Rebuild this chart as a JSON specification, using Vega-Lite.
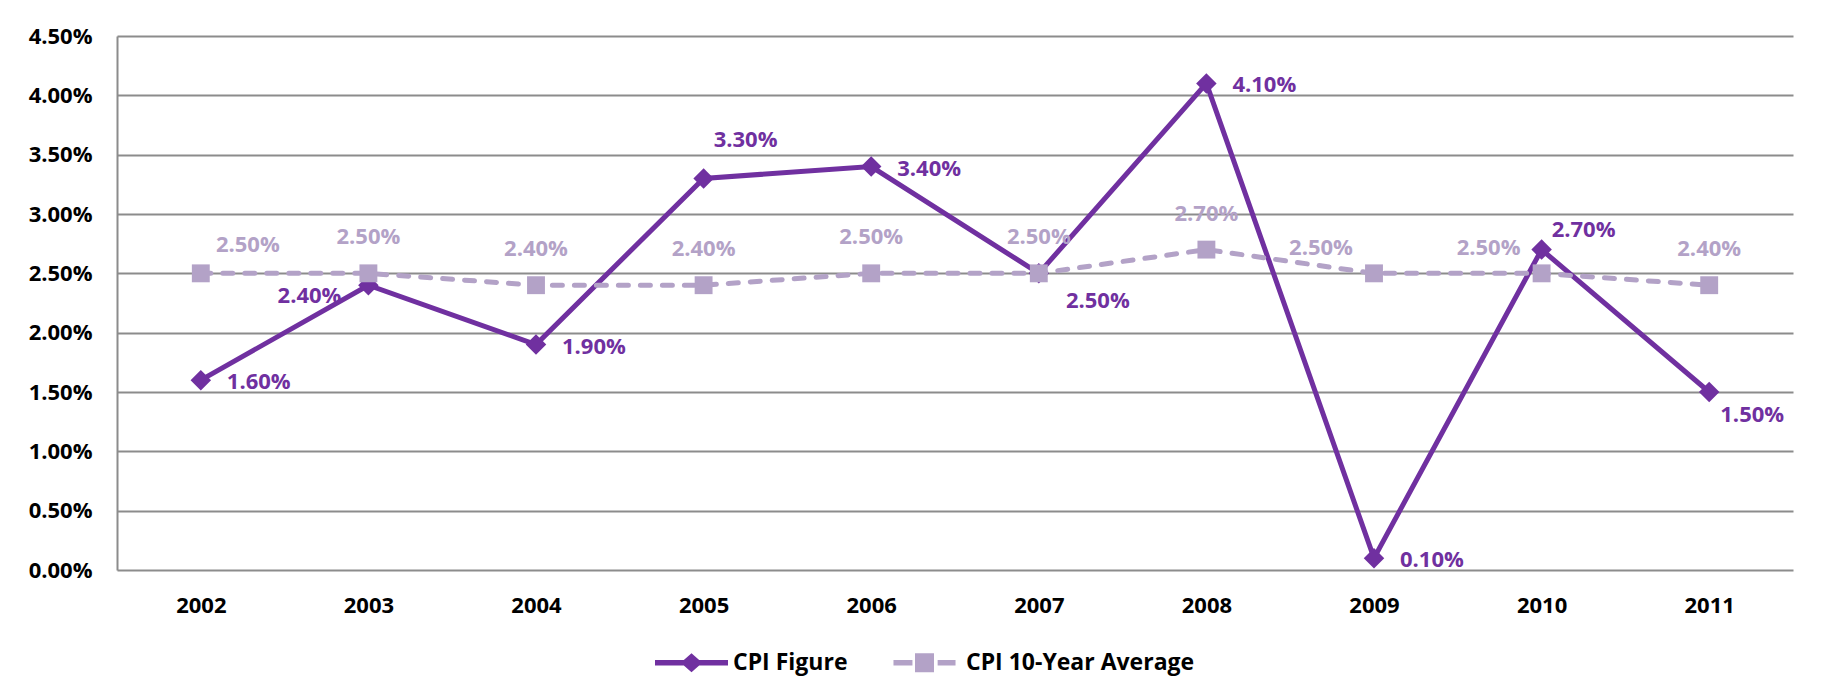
{
  "$schema": "https://vega.github.io/schema/vega-lite/v6.json",
  "autosize": "none",
  "width": 1676,
  "height": 534,
  "padding": {"left": 117, "top": 36, "right": 33, "bottom": 129},
  "background": "white",
  "config": {
    "view": {"stroke": null},
    "font": "Open Sans",
    "axis": {"labelFont": "Open Sans", "labelFontWeight": "bold", "labelFontSize": 22, "labelColor": "#000000", "domainColor": "#8C8C8C", "domainWidth": 2, "gridColor": "#8C8C8C", "gridWidth": 2, "ticks": false, "tickSize": 0, "title": null}
  },
  "data": {"values": [
    {"year": "2002", "series": "CPI Figure", "value": 0.016},
    {"year": "2003", "series": "CPI Figure", "value": 0.024},
    {"year": "2004", "series": "CPI Figure", "value": 0.019},
    {"year": "2005", "series": "CPI Figure", "value": 0.033},
    {"year": "2006", "series": "CPI Figure", "value": 0.034},
    {"year": "2007", "series": "CPI Figure", "value": 0.025},
    {"year": "2008", "series": "CPI Figure", "value": 0.041},
    {"year": "2009", "series": "CPI Figure", "value": 0.001},
    {"year": "2010", "series": "CPI Figure", "value": 0.027},
    {"year": "2011", "series": "CPI Figure", "value": 0.015},
    {"year": "2002", "series": "CPI 10-Year Average", "value": 0.025},
    {"year": "2003", "series": "CPI 10-Year Average", "value": 0.025},
    {"year": "2004", "series": "CPI 10-Year Average", "value": 0.024},
    {"year": "2005", "series": "CPI 10-Year Average", "value": 0.024},
    {"year": "2006", "series": "CPI 10-Year Average", "value": 0.025},
    {"year": "2007", "series": "CPI 10-Year Average", "value": 0.025},
    {"year": "2008", "series": "CPI 10-Year Average", "value": 0.027},
    {"year": "2009", "series": "CPI 10-Year Average", "value": 0.025},
    {"year": "2010", "series": "CPI 10-Year Average", "value": 0.025},
    {"year": "2011", "series": "CPI 10-Year Average", "value": 0.024}
  ]},
  "encoding": {
    "x": {"field": "year", "type": "ordinal", "scale": {"type": "point", "padding": 0.5},
      "axis": {"labelAngle": 0, "labelPadding": 25, "grid": false, "domain": false}},
    "y": {"field": "value", "type": "quantitative", "scale": {"domain": [0, 0.045], "nice": false},
      "axis": {"values": [0, 0.005, 0.01, 0.015, 0.02, 0.025, 0.03, 0.035, 0.04, 0.045], "format": ".2%", "labelPadding": 25, "grid": true, "domain": true}}
  },
  "layer": [
    {"transform": [{"filter": "datum.series === 'CPI Figure'"}],
     "mark": {"type": "line", "color": "#7030A0", "strokeWidth": 5}},
    {"transform": [{"filter": "datum.series === 'CPI Figure'"}],
     "mark": {"type": "point", "shape": "diamond", "filled": true, "size": 420, "opacity": 1},
     "encoding": {"color": {"field": "series", "type": "nominal",
        "scale": {"domain": ["CPI Figure", "CPI 10-Year Average"], "range": ["#7030A0", "#B3A2C7"]},
        "legend": {"title": null, "orient": "none", "legendX": 538, "legendY": 590, "direction": "horizontal",
          "labelFont": "Open Sans", "labelFontWeight": "bold", "labelFontSize": 23, "labelColor": "#000000", "labelLimit": 0,
          "symbolSize": 5329, "labelOffset": 5, "columnPadding": 40, "symbolOpacity": 1,
          "encode": {"symbols": {"update": {
            "shape": {"signal": "datum.value === 'CPI Figure' ? 'M-1,-0.075 L-0.21,-0.075 L0,-0.26 L0.21,-0.075 L1,-0.075 L1,0.075 L0.21,0.075 L0,0.26 L-0.21,0.075 L-1,0.075 Z' : 'M-0.85,-0.075 L-0.33,-0.075 L-0.33,0.075 L-0.85,0.075 Z M-0.26,-0.26 L0.26,-0.26 L0.26,0.26 L-0.26,0.26 Z M0.36,-0.075 L0.85,-0.075 L0.85,0.075 L0.36,0.075 Z'"},
            "strokeWidth": {"value": 0},
            "opacity": {"value": 1}
          }}}}}}},
    {"transform": [{"filter": "datum.series === 'CPI 10-Year Average'"}],
     "mark": {"type": "line", "color": "#B3A2C7", "strokeWidth": 5, "strokeDash": [10, 12], "strokeCap": "round"}},
    {"transform": [{"filter": "datum.series === 'CPI 10-Year Average'"}],
     "mark": {"type": "point", "shape": "square", "filled": true, "size": 320, "opacity": 1},
     "encoding": {"color": {"field": "series", "type": "nominal"}}},
    {"transform": [{"filter": "datum.series === 'CPI 10-Year Average' && indexof(['2003','2004','2005','2006','2007','2008','2011'], datum.year) >= 0"}],
     "mark": {"type": "text", "font": "Open Sans", "fontWeight": "bold", "fontSize": 22, "color": "#B3A2C7", "align": "center", "baseline": "middle", "dy": -36},
     "encoding": {"text": {"field": "value", "type": "quantitative", "format": ".2%"}}},
    {"transform": [{"filter": "datum.series === 'CPI 10-Year Average' && datum.year === '2002'"}],
     "mark": {"type": "text", "font": "Open Sans", "fontWeight": "bold", "fontSize": 22, "color": "#B3A2C7", "align": "center", "baseline": "middle", "dx": 47, "dy": -28},
     "encoding": {"text": {"field": "value", "type": "quantitative", "format": ".2%"}}},
    {"transform": [{"filter": "datum.series === 'CPI 10-Year Average' && indexof(['2009','2010'], datum.year) >= 0"}],
     "mark": {"type": "text", "font": "Open Sans", "fontWeight": "bold", "fontSize": 22, "color": "#B3A2C7", "align": "center", "baseline": "middle", "dx": -53, "dy": -25},
     "encoding": {"text": {"field": "value", "type": "quantitative", "format": ".2%"}}},
    {"transform": [{"filter": "datum.series === 'CPI Figure' && indexof(['2002','2004','2006','2008','2009'], datum.year) >= 0"}],
     "mark": {"type": "text", "font": "Open Sans", "fontWeight": "bold", "fontSize": 22, "color": "#7030A0", "align": "left", "baseline": "middle", "dx": 26, "dy": 2},
     "encoding": {"text": {"field": "value", "type": "quantitative", "format": ".2%"}}},
    {"transform": [{"filter": "datum.series === 'CPI Figure' && datum.year === '2003'"}],
     "mark": {"type": "text", "font": "Open Sans", "fontWeight": "bold", "fontSize": 22, "color": "#7030A0", "align": "right", "baseline": "middle", "dx": -27, "dy": 11},
     "encoding": {"text": {"field": "value", "type": "quantitative", "format": ".2%"}}},
    {"transform": [{"filter": "datum.series === 'CPI Figure' && datum.year === '2005'"}],
     "mark": {"type": "text", "font": "Open Sans", "fontWeight": "bold", "fontSize": 22, "color": "#7030A0", "align": "center", "baseline": "middle", "dx": 42, "dy": -38},
     "encoding": {"text": {"field": "value", "type": "quantitative", "format": ".2%"}}},
    {"transform": [{"filter": "datum.series === 'CPI Figure' && datum.year === '2007'"}],
     "mark": {"type": "text", "font": "Open Sans", "fontWeight": "bold", "fontSize": 22, "color": "#7030A0", "align": "center", "baseline": "middle", "dx": 59, "dy": 28},
     "encoding": {"text": {"field": "value", "type": "quantitative", "format": ".2%"}}},
    {"transform": [{"filter": "datum.series === 'CPI Figure' && datum.year === '2010'"}],
     "mark": {"type": "text", "font": "Open Sans", "fontWeight": "bold", "fontSize": 22, "color": "#7030A0", "align": "center", "baseline": "middle", "dx": 42, "dy": -20},
     "encoding": {"text": {"field": "value", "type": "quantitative", "format": ".2%"}}},
    {"transform": [{"filter": "datum.series === 'CPI Figure' && datum.year === '2011'"}],
     "mark": {"type": "text", "font": "Open Sans", "fontWeight": "bold", "fontSize": 22, "color": "#7030A0", "align": "center", "baseline": "middle", "dx": 43, "dy": 23},
     "encoding": {"text": {"field": "value", "type": "quantitative", "format": ".2%"}}}
  ]
}
